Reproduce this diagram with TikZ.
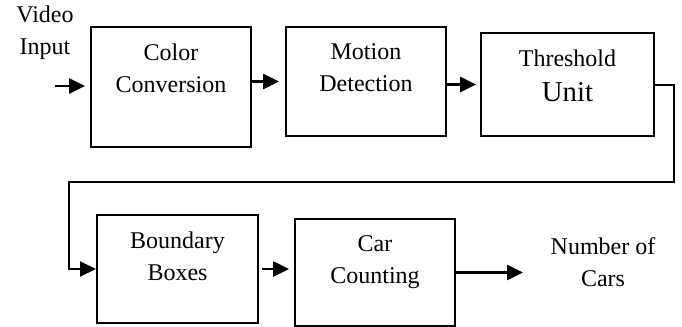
\documentclass[tikz,border=0pt]{standalone}
\usepackage{fontspec}
\setmainfont{Liberation Serif}
\usetikzlibrary{arrows.meta}

\tikzset{
  blk/.style={draw, line width=1pt, inner sep=0pt},
  lbl/.style={anchor=north, align=center, inner sep=0pt, yshift=-8.5pt},
  arr/.style={line width=1.3pt, -{Triangle[length=8pt,width=7.5pt]}},
}

\begin{document}
\begin{tikzpicture}[x=0.5pt,y=-0.5pt,font=\fontsize{12}{16}\selectfont]

\useasboundingbox (0,0) rectangle (682,327);

% top row
\node[blk, minimum width=80pt, minimum height=60pt]   (conv)  at (171,87)    {};
\node[blk, minimum width=80pt, minimum height=54.5pt] (mot)   at (366,81.5)  {};
\node[blk, minimum width=86.5pt, minimum height=51.5pt] (thr) at (567.5,84.5) {};

\node[lbl] at (conv.north) {Color\\Conversion};
\node[lbl] at (mot.north)  {Motion\\Detection};
\node[lbl] at (thr.north)  {Threshold\\[1.5pt]{\fontsize{14.4}{17}\selectfont Unit}};

% bottom row
\node[blk, minimum width=80.5pt, minimum height=54pt]   (bbox)  at (177.5,269)  {};
\node[blk, minimum width=80pt, minimum height=53.5pt]   (count) at (375,272.5)  {};

\node[lbl] at (bbox.north)  {Boundary\\Boxes};
\node[lbl] at (count.north) {Car\\Counting};

\node[align=center] (vid)  at (45,33)  {Video\\Input};
\node[align=center] (cars) at (603,262) {Number of\\Cars};

\coordinate (vin)   at (55,86);
\coordinate (turnR) at (674,182);
\coordinate (turnL) at (69,182);
\coordinate (cout)  at (523,272.5);

\draw[arr, shorten >=2.5pt] (vin) -- (vin -| conv.west);
\draw[arr, shorten >=3pt] (conv.east |- mot) -- (mot.west);
\draw[arr, shorten >=2pt] (mot.east |- thr) -- (thr.west);
\draw[arr, line width=1pt] (thr.east) -| (turnR) -- (turnL) |- (bbox.west);
\draw[arr, shorten <=1.5pt, shorten >=2.5pt] (bbox.east) -- (bbox.east -| count.west);
\draw[arr] (count.east) -- (cout);

\end{tikzpicture}
\end{document}
